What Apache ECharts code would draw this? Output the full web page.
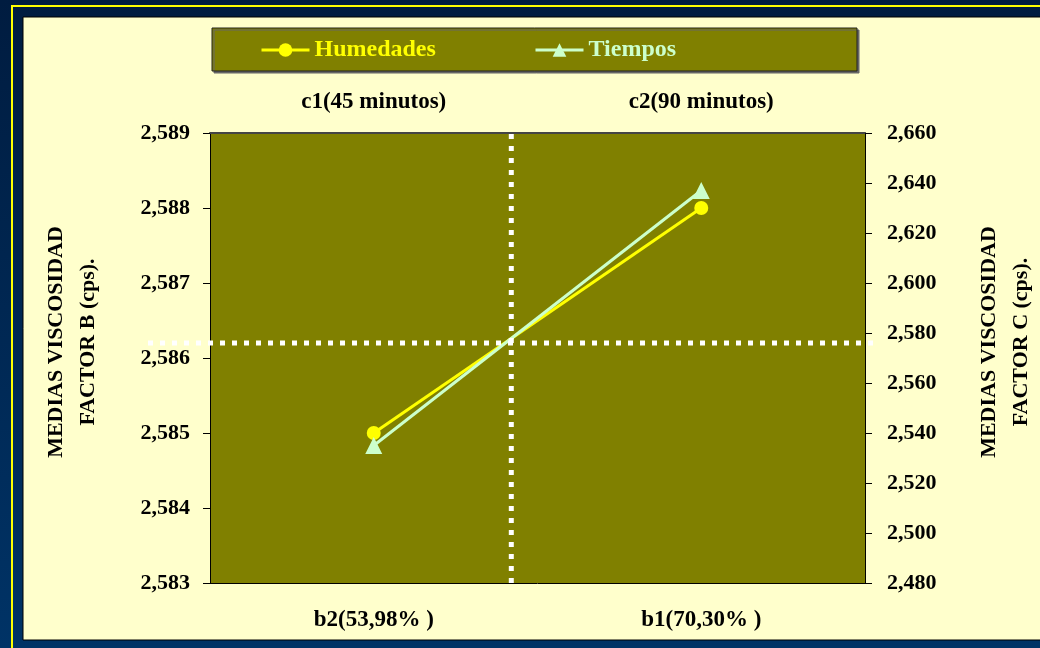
<!DOCTYPE html>
<html>
<head>
<meta charset="utf-8">
<script src="https://cdn.jsdelivr.net/npm/echarts@6/dist/echarts.min.js"></script>
<style>
  html, body { margin: 0; padding: 0; }
  #chart { width: 1040px; height: 648px; }
</style>
</head>
<body>
<div id="chart"></div>
<script>
// datos del gráfico
const bLabels = ['b2(53,98% )', 'b1(70,30% )'];
const cLabels = ['c1(45 minutos)', 'c2(90 minutos)'];
const humedades = [2.585, 2.588];
const tiempos = [2.535, 2.637];
const axisB = [2.583, 2.589];   // eje izquierdo (factor B)
const axisC = [2.48, 2.66];     // eje derecho (factor C)
const meanB = 2.5862;           // línea punteada horizontal (eje izquierdo)
const crossX = 0.92;            // línea punteada vertical (escala 0..2)

const serif = 'Liberation Serif';
const fmt = (v) => v.toFixed(3).replace('.', ',');

const chart = echarts.init(document.getElementById('chart'));

const labelStyle = { fontFamily: serif, fontWeight: 'bold', fontSize: 22, color: '#000' };
const catStyle = { fontFamily: serif, fontWeight: 'bold', fontSize: 23, color: '#000' };
const titleStyle = { fontFamily: serif, fontWeight: 'bold', fontSize: 22, color: '#000',
                     lineHeight: 32, padding: [0, 0, 0, 32] };
const dotted = { color: '#fff', width: 5, type: [5, 7], cap: 'butt' };

chart.setOption({
  backgroundColor: {
    type: 'linear', x: 0, y: 0, x2: 0, y2: 1,
    colorStops: [{ offset: 0, color: '#001c40' }, { offset: 1, color: '#003366' }]
  },
  animation: false,
  graphic: [
    { type: 'rect', z: -10, shape: { x: 12, y: 6, width: 1040, height: 660 },
      style: { fill: null, stroke: '#ffff00', lineWidth: 2 } },
    { type: 'rect', z: -9, shape: { x: 23, y: 17, width: 1030, height: 623 },
      style: { fill: '#ffffcc', stroke: '#000', lineWidth: 1 } },
    { type: 'rect', z: -8, shape: { x: 212, y: 28, width: 645, height: 43 },
      style: { fill: '#808000', stroke: '#222', lineWidth: 1,
               shadowColor: '#666', shadowOffsetX: 2, shadowOffsetY: 2 } }
  ],
  legend: [
    { data: [{ name: 'Humedades', textStyle: { color: '#ffff00' } }],
      left: 260, top: 38, padding: 0, itemWidth: 48, itemHeight: 17,
      lineStyle: { width: 3 },
      textStyle: { fontFamily: serif, fontWeight: 'bold', fontSize: 24 } },
    { data: [{ name: 'Tiempos', textStyle: { color: '#ccffcc' } }],
      left: 534, top: 38, padding: 0, itemWidth: 48, itemHeight: 17,
      lineStyle: { width: 3 },
      textStyle: { fontFamily: serif, fontWeight: 'bold', fontSize: 24 } }
  ],
  grid: [
    { left: 210, right: 175, top: 133, bottom: 65, outerBoundsMode: 'none',
      show: true, backgroundColor: '#808000', borderWidth: 0 },
    { left: 148, right: 162, top: 133, bottom: 65, outerBoundsMode: 'none' }
  ],
  xAxis: [
    { type: 'category', data: bLabels, position: 'bottom', boundaryGap: true,
      axisLine: { lineStyle: { color: '#000', width: 1 } },
      axisTick: { length: 7, lineStyle: { color: '#000' } },
      axisLabel: Object.assign({ margin: 26 }, catStyle) },
    { type: 'category', data: cLabels, position: 'top', boundaryGap: true,
      axisLine: { lineStyle: { color: '#444', width: 2 } },
      axisTick: { length: 5, lineStyle: { color: '#000' } },
      axisLabel: Object.assign({ margin: 19 }, catStyle) },
    { type: 'value', min: 0, max: 2, show: false, gridIndex: 0 },
    { type: 'value', min: 0, max: 1, show: false, gridIndex: 1 }
  ],
  yAxis: [
    { type: 'value', min: axisB[0], max: axisB[1], interval: 0.001, position: 'left',
      name: 'MEDIAS VISCOSIDAD\nFACTOR B (cps).', nameLocation: 'middle', nameGap: 106,
      nameTextStyle: titleStyle,
      axisLine: { show: true, lineStyle: { color: '#000' } },
      axisTick: { show: true, length: 7, lineStyle: { color: '#000' } },
      splitLine: { show: false },
      axisLabel: Object.assign({ margin: 20, formatter: fmt }, labelStyle) },
    { type: 'value', min: axisC[0], max: axisC[1], interval: 0.02, position: 'right',
      name: 'MEDIAS VISCOSIDAD\nFACTOR C (cps).', nameLocation: 'middle', nameGap: 108,
      nameTextStyle: titleStyle,
      axisLine: { show: true, lineStyle: { color: '#000' } },
      axisTick: { show: true, length: 7, lineStyle: { color: '#000' } },
      splitLine: { show: false },
      axisLabel: Object.assign({ margin: 22, formatter: fmt }, labelStyle) },
    { type: 'value', min: axisB[0], max: axisB[1], show: false, gridIndex: 1 }
  ],
  series: [
    { name: 'Humedades', type: 'line', xAxisIndex: 0, yAxisIndex: 0, z: 3,
      data: humedades, symbol: 'circle', symbolSize: 14,
      itemStyle: { color: '#ffff00' }, lineStyle: { color: '#ffff00', width: 3 } },
    { name: 'Tiempos', type: 'line', xAxisIndex: 1, yAxisIndex: 1, z: 4,
      data: tiempos, symbol: 'triangle', symbolSize: 17,
      itemStyle: { color: '#ccffcc' }, lineStyle: { color: '#ccffcc', width: 3 } },
    { type: 'line', xAxisIndex: 2, yAxisIndex: 0, z: 5, silent: true, symbol: 'none',
      data: [[crossX, axisB[0]], [crossX, axisB[1]]], lineStyle: dotted },
    { type: 'line', xAxisIndex: 3, yAxisIndex: 2, z: 5, silent: true, symbol: 'none',
      data: [[0, meanB], [1, meanB]], lineStyle: dotted }
  ]
});
</script>
</body>
</html>
